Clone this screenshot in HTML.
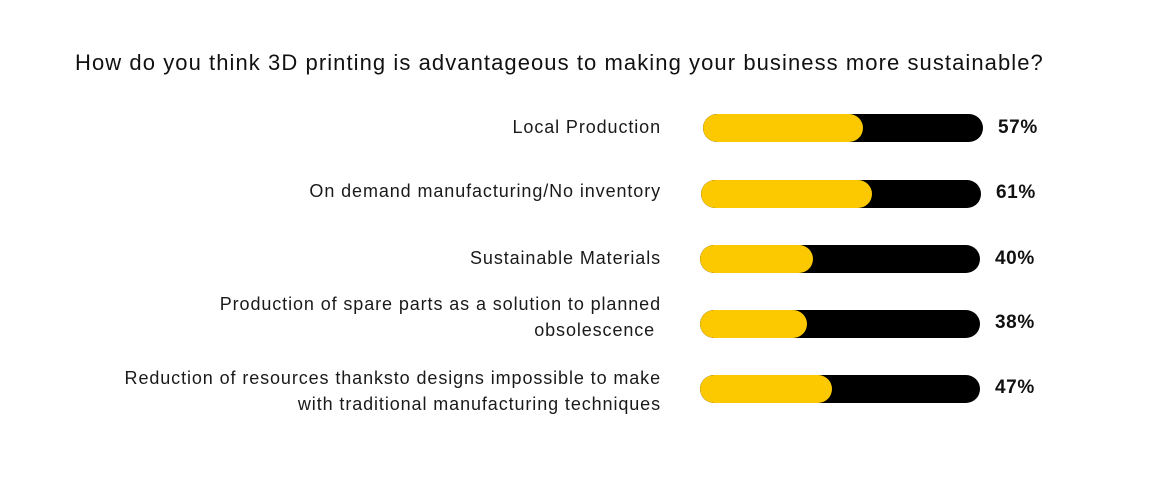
<!DOCTYPE html>
<html><head><style>
body{margin:0;width:1170px;height:502px;background:#fff;position:relative;overflow:hidden;font-family:"Liberation Sans",sans-serif;color:#111}
.t{position:absolute;left:75px;top:50px;font-size:22px;font-weight:300;letter-spacing:1.07px;white-space:nowrap}
.l{position:absolute;right:509px;text-align:right;font-size:18px;line-height:26px;color:#1a1a1a;letter-spacing:0.9px;white-space:nowrap}
.b{position:absolute;height:28px;border-radius:14px;background:#000;overflow:hidden}
.b i{position:absolute;left:0;top:0;bottom:0;background:#fcc800;border-radius:14px}
.p{position:absolute;font-size:19px;font-weight:bold;letter-spacing:0.6px}
</style></head><body>
<div class="t">How do you think 3D printing is advantageous to making your business more sustainable?</div>
<div class="l" style="top:114px">Local Production</div>
<div class="l" style="top:178px">On demand manufacturing/No inventory</div>
<div class="l" style="top:245px">Sustainable Materials</div>
<div class="l" style="top:291px">Production of spare parts as a solution to planned<br>obsolescence&nbsp;</div>
<div class="l" style="top:365px">Reduction of resources thanksto designs impossible to make<br>with traditional manufacturing techniques</div>
<div class="b" style="left:703px;top:114px;width:280px"><i style="width:160px"></i></div>
<div class="b" style="left:701px;top:180px;width:280px"><i style="width:171px"></i></div>
<div class="b" style="left:700px;top:245px;width:280px"><i style="width:113px"></i></div>
<div class="b" style="left:700px;top:310px;width:280px"><i style="width:107px"></i></div>
<div class="b" style="left:700px;top:375px;width:280px"><i style="width:132px"></i></div>
<div class="p" style="left:998px;top:117px">57%</div>
<div class="p" style="left:996px;top:182px">61%</div>
<div class="p" style="left:995px;top:248px">40%</div>
<div class="p" style="left:995px;top:312px">38%</div>
<div class="p" style="left:995px;top:377px">47%</div>
</body></html>
